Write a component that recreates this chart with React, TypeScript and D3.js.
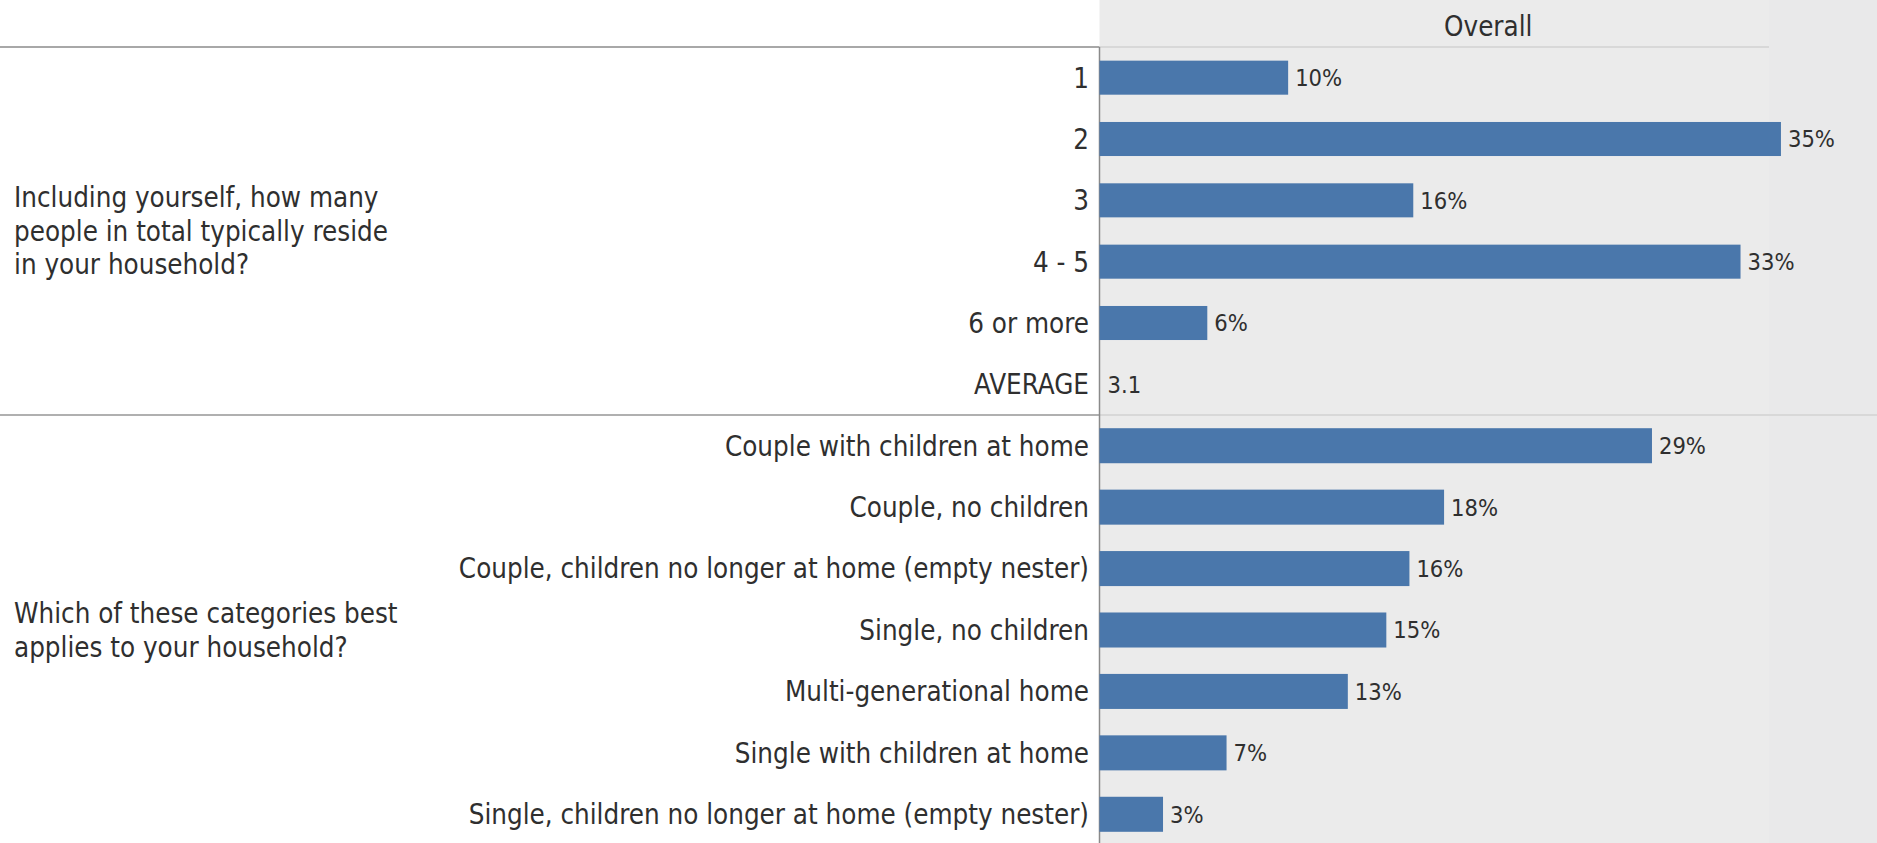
import React from "react";
import * as d3 from "d3";

const headerTitle = "Overall";

const q1Label = ["Including yourself, how many", "people in total typically reside", "in your household?"];
const q1Categories = ["1", "2", "3", "4 - 5", "6 or more", "AVERAGE"];
const q1Values = [9.8, 35.4, 16.3, 33.3, 5.6, null];
const q1Average = "3.1";

const q2Label = ["Which of these categories best", "applies to your household?"];
const q2Categories = [
  "Couple with children at home",
  "Couple, no children",
  "Couple, children no longer at home (empty nester)",
  "Single, no children",
  "Multi-generational home",
  "Single with children at home",
  "Single, children no longer at home (empty nester)",
];
const q2Values = [28.7, 17.9, 16.1, 14.9, 12.9, 6.6, 3.3];

const W = 1877;
const H = 843;
const FONT = "'DejaVu Sans Condensed', 'DejaVu Sans', sans-serif";
const BAR = "#4a77ab";
const TXT = "#2f2f2f";

export default function App() {
  const axisX = 1099.5;
  const headerY = 47;
  const sepY = 415;
  const x = d3.scaleLinear().domain([0, 40]).range([axisX, axisX + 770]);

  const y1 = d3.scaleBand<string>().domain(q1Categories).range([headerY, sepY]).paddingInner(0.445).paddingOuter(0.2225);
  const y2 = d3.scaleBand<string>().domain(q2Categories).range([sepY, H + 2]).paddingInner(0.43).paddingOuter(0.215);

  const fmt = (v: number) => `${Math.round(v)}%`;

  const catFont = 27.5;
  const valFont = 23.5;

  const renderSection = (cats: string[], vals: (number | null)[], y: d3.ScaleBand<string>, avg?: string) => (
    <g>
      {cats.map((c, i) => {
        const cy = (y(c) as number) + y.bandwidth() / 2;
        const v = vals[i];
        return (
          <g key={c}>
            <text x={1089} y={cy} dy="0.36em" textAnchor="end" fontSize={catFont} fill={TXT} fontFamily={FONT}>
              {c}
            </text>
            {v != null ? (
              <g>
                <rect x={x(0)} y={y(c)} width={x(v) - x(0)} height={y.bandwidth()} fill={BAR} />
                <text x={x(v) + 7} y={cy} dy="0.36em" fontSize={valFont} fill={TXT} fontFamily={FONT}>
                  {fmt(v)}
                </text>
              </g>
            ) : (
              <text x={x(0) + 8} y={cy} dy="0.36em" fontSize={valFont} fill={TXT} fontFamily={FONT}>
                {avg}
              </text>
            )}
          </g>
        );
      })}
    </g>
  );

  const lineH = 33.5;
  const c1 = (headerY + sepY) / 2;
  const c2 = (sepY + H) / 2 + 1;

  return (
    <svg width={W} height={H} style={{ position: "absolute", left: 0, top: 0, background: "#fff" }}>
      <rect x={0} y={0} width={W} height={H} fill="#ffffff" />
      <rect x={axisX} y={0} width={W - axisX} height={H} fill="#ebebeb" />
      <rect x={1769} y={0} width={W - 1769} height={H} fill="#e9e9ea" />
      <text x={(axisX + W) / 2} y={26} dy="0.36em" textAnchor="middle" fontSize={catFont} fill={TXT} fontFamily={FONT}>
        {headerTitle}
      </text>
      <line x1={0} x2={axisX} y1={headerY} y2={headerY} stroke="#a8a8a8" strokeWidth={2} />
      <line x1={axisX} x2={1769} y1={headerY} y2={headerY} stroke="#d2d2d2" strokeWidth={1.5} />
      <line x1={0} x2={axisX} y1={sepY} y2={sepY} stroke="#b0b0b0" strokeWidth={2} />
      <line x1={axisX} x2={W} y1={sepY} y2={sepY} stroke="#d2d2d2" strokeWidth={1.5} />
      <line x1={axisX} x2={axisX} y1={headerY} y2={H} stroke="#8a8a8a" strokeWidth={1.5} />

      {q1Label.map((t, i) => (
        <text key={t} x={14} y={c1 + (i - (q1Label.length - 1) / 2) * lineH} dy="0.36em" fontSize={catFont} fill={TXT} fontFamily={FONT}>
          {t}
        </text>
      ))}
      {q2Label.map((t, i) => (
        <text key={t} x={14} y={c2 + (i - (q2Label.length - 1) / 2) * lineH} dy="0.36em" fontSize={catFont} fill={TXT} fontFamily={FONT}>
          {t}
        </text>
      ))}

      {renderSection(q1Categories, q1Values, y1, q1Average)}
      {renderSection(q2Categories, q2Values, y2)}
    </svg>
  );
}
